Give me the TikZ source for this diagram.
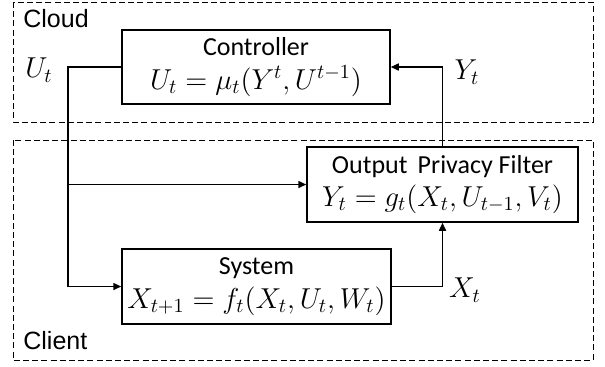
\documentclass[tikz,border=0pt]{standalone}
\usepackage{fontspec}
\setmainfont{Carlito}
\newfontfamily\arialf{Liberation Sans}
\usetikzlibrary{arrows.meta}
\newcommand{\mth}[1]{{\fontsize{14}{15.5}\selectfont$#1$}}
\begin{document}
\begin{tikzpicture}[x=0.5pt,y=-0.5pt,
  blk/.style={draw,line width=0.75pt,align=center,inner sep=0pt,font=\fontsize{13}{15.5}\selectfont},
  region/.style={draw,line width=0.5pt,dash pattern=on 3pt off 1.6pt},
  conn/.style={line width=0.75pt},
  arr/.style={conn,-{Triangle[length=4pt,width=3.5pt]}},
  lbl/.style={font=\fontsize{14}{15}\selectfont,inner sep=0pt},
  reg/.style={font=\arialf\fontsize{12.5}{15}\selectfont,inner sep=0pt,anchor=base west}]
\useasboundingbox (0,0) rectangle (605,366);
\draw[region] (13,2) rectangle (593,122);
\draw[region] (13,140) rectangle (593,360);
\node[reg] (cloud) at (23,27) {Cloud};
\node[reg] (client) at (23,349) {Client};
\node[blk,minimum width=134pt,minimum height=37pt] (ctrl) at (256,67)
  {Controller\\[1.2pt] \mth{U_t=\mu_t(Y^t,U^{t-1})}};
\node[blk,minimum width=135.5pt,minimum height=37.5pt] (opf) at (442.5,184.5)
  {Output\ \,Privacy Filter\\[1.2pt] \mth{Y_t=g_t(X_t,U_{t-1},V_t)}};
\node[blk,minimum width=134.5pt,minimum height=37.5pt] (sys) at (256.5,286.5)
  {System\\[1.2pt] \mth{X_{t+1}=f_t(X_t,U_t,W_t)}};
\coordinate (jx) at (68,184.5);
\draw[conn] (ctrl.west) -| (jx);
\draw[arr] (jx) |- (sys.west);
\draw[arr] (jx) -- (opf.west);
\draw[arr] (opf.north) |- (ctrl.east);
\draw[arr] (sys.east) -| (opf.south);
\node[lbl] (ut) at (39,70) {$U_t$};
\node[lbl] (yt) at (467,72) {$Y_t$};
\node[lbl] (xt) at (465,290) {$X_t$};
\end{tikzpicture}
\end{document}
